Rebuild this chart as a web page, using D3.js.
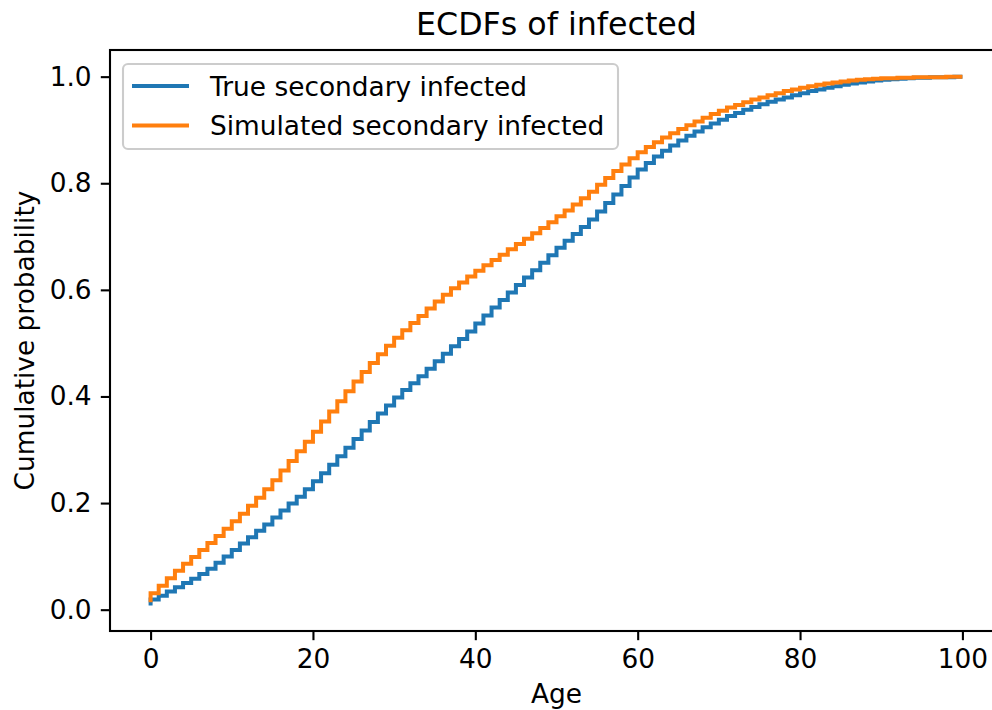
<!DOCTYPE html>
<html>
<head>
<meta charset="utf-8">
<script src="https://cdn.jsdelivr.net/npm/d3@7/dist/d3.min.js"></script>
<style>
  html, body { margin: 0; padding: 0; background: #fff; }
  svg { display: block; font-family: "DejaVu Sans", sans-serif; }
</style>
</head>
<body>
<svg id="chart" width="992" height="710"></svg>
<script>
// Ages (years) at which the empirical CDFs step
const ages = d3.range(0, 101);

// ECDF of the observed secondary infections, value at each age
const trueEcdf = [
  0.019, 0.026, 0.034, 0.042, 0.050, 0.058, 0.067, 0.077, 0.088, 0.100,
  0.112, 0.124, 0.136, 0.148, 0.160, 0.173, 0.186, 0.199, 0.212, 0.226,
  0.241, 0.256, 0.272, 0.288, 0.304, 0.320, 0.336, 0.352, 0.368, 0.383,
  0.398, 0.412, 0.425, 0.438, 0.452, 0.466, 0.480, 0.494, 0.508, 0.522,
  0.537, 0.552, 0.567, 0.581, 0.595, 0.609, 0.623, 0.637, 0.651, 0.665,
  0.679, 0.692, 0.705, 0.718, 0.732, 0.747, 0.763, 0.779, 0.795, 0.811,
  0.826, 0.838, 0.850, 0.861, 0.871, 0.880, 0.889, 0.897, 0.905, 0.912,
  0.919, 0.926, 0.932, 0.938, 0.943, 0.948, 0.953, 0.957, 0.961, 0.965,
  0.969, 0.973, 0.976, 0.979, 0.982, 0.985, 0.987, 0.989, 0.991, 0.993,
  0.994, 0.995, 0.996, 0.997, 0.998, 0.998, 0.999, 0.999, 0.999, 1.000,
  1.000
];

// ECDF of the simulated secondary infections, value at each age
const simEcdf = [
  0.031, 0.045, 0.059, 0.073, 0.086, 0.099, 0.112, 0.125, 0.138, 0.152,
  0.166, 0.180, 0.195, 0.210, 0.226, 0.243, 0.261, 0.279, 0.297, 0.315,
  0.334, 0.353, 0.372, 0.391, 0.410, 0.428, 0.446, 0.463, 0.479, 0.495,
  0.510, 0.524, 0.538, 0.551, 0.565, 0.578, 0.591, 0.603, 0.614, 0.625,
  0.636, 0.646, 0.656, 0.666, 0.676, 0.686, 0.696, 0.706, 0.716, 0.727,
  0.738, 0.749, 0.760, 0.772, 0.784, 0.797, 0.810, 0.823, 0.835, 0.847,
  0.858, 0.868, 0.877, 0.886, 0.894, 0.902, 0.909, 0.916, 0.923, 0.930,
  0.936, 0.942, 0.947, 0.952, 0.957, 0.961, 0.965, 0.969, 0.973, 0.976,
  0.979, 0.982, 0.985, 0.987, 0.989, 0.991, 0.993, 0.994, 0.995, 0.996,
  0.997, 0.997, 0.998, 0.998, 0.999, 0.999, 0.999, 0.999, 1.000, 1.000,
  1.000
];

// Lowest plotted point of each curve (first sample at age 0)
const trueStart = 0.008;
const simStart = 0.014;

const seriesNames = ["True secondary infected", "Simulated secondary infected"];
const seriesColors = ["#1f77b4", "#ff7f0e"];

const xTicks = [0, 20, 40, 60, 80, 100];
const yTicks = [0.0, 0.2, 0.4, 0.6, 0.8, 1.0];

const titleText = "ECDFs of infected";
const xLabel = "Age";
const yLabel = "Cumulative probability";

// ---- layout ----
const svg = d3.select("#chart");
const plot = { left: 110, top: 50, right: 1003, bottom: 631 };
const fontSize = 26.4;

const x = d3.scaleLinear().domain([-5, 105]).range([plot.left, plot.right]);
const y = d3.scaleLinear().domain([-0.04, 1.05]).range([plot.bottom, plot.top]);

// ---- curves ----
const line = d3.line()
  .x(d => x(d[0]))
  .y(d => y(d[1]))
  .curve(d3.curveStepAfter);

function stepPoints(start, vals) {
  const pts = [[ages[0], start]];
  ages.forEach((a, i) => pts.push([a, vals[i]]));
  return pts;
}

const curves = [stepPoints(trueStart, trueEcdf), stepPoints(simStart, simEcdf)];

svg.append("defs").append("clipPath").attr("id", "plotClip")
  .append("rect")
  .attr("x", plot.left).attr("y", plot.top)
  .attr("width", plot.right - plot.left).attr("height", plot.bottom - plot.top);

const gLines = svg.append("g").attr("clip-path", "url(#plotClip)");
curves.forEach((pts, i) => {
  gLines.append("path")
    .datum(pts)
    .attr("d", line)
    .attr("fill", "none")
    .attr("stroke", seriesColors[i])
    .attr("stroke-width", 4)
    .attr("stroke-linejoin", "miter")
    .attr("stroke-linecap", "butt");
});

// ---- axes ----
const tickLen = 9.2, tickPad = 9.2;

const xAxis = d3.axisBottom(x)
  .tickValues(xTicks)
  .tickFormat(d3.format("d"))
  .tickSize(tickLen)
  .tickPadding(tickPad)
  .tickSizeOuter(0);

const yAxis = d3.axisLeft(y)
  .tickValues(yTicks)
  .tickFormat(d3.format(".1f"))
  .tickSize(tickLen)
  .tickPadding(tickPad)
  .tickSizeOuter(0);

const gx = svg.append("g")
  .attr("transform", `translate(0,${plot.bottom})`)
  .call(xAxis);
const gy = svg.append("g")
  .attr("transform", `translate(${plot.left},0)`)
  .call(yAxis);

[gx, gy].forEach(g => {
  g.select(".domain").remove();
  g.selectAll(".tick line").attr("stroke", "#000").attr("stroke-width", 2.1);
  g.selectAll(".tick text")
    .attr("fill", "#000")
    .style("font-family", "DejaVu Sans")
    .style("font-size", fontSize + "px");
});

// spines
svg.append("rect")
  .attr("x", plot.left).attr("y", plot.top)
  .attr("width", plot.right - plot.left).attr("height", plot.bottom - plot.top)
  .attr("fill", "none")
  .attr("stroke", "#000")
  .attr("stroke-width", 2.1);

// ---- title and axis labels ----
const cx = (plot.left + plot.right) / 2;
svg.append("text")
  .attr("x", cx).attr("y", 35)
  .attr("text-anchor", "middle")
  .style("font-size", "31.7px")
  .text(titleText);

svg.append("text")
  .attr("x", cx).attr("y", 703)
  .attr("text-anchor", "middle")
  .style("font-size", fontSize + "px")
  .text(xLabel);

svg.append("text")
  .attr("transform", `translate(34,${(plot.top + plot.bottom) / 2}) rotate(-90)`)
  .attr("text-anchor", "middle")
  .style("font-size", fontSize + "px")
  .text(yLabel);

// ---- legend ----
const legend = svg.append("g");
legend.append("rect")
  .attr("x", 123).attr("y", 64)
  .attr("width", 495).attr("height", 85)
  .attr("rx", 5).attr("ry", 5)
  .attr("fill", "#fff")
  .attr("fill-opacity", 0.8)
  .attr("stroke", "#cccccc")
  .attr("stroke-width", 2.1);

seriesNames.forEach((name, i) => {
  const cy = 86 + i * 39.5;
  legend.append("line")
    .attr("x1", 132).attr("x2", 189)
    .attr("y1", cy).attr("y2", cy)
    .attr("stroke", seriesColors[i])
    .attr("stroke-width", 4);
  legend.append("text")
    .attr("x", 210).attr("y", cy)
    .attr("dy", "0.36em")
    .style("font-size", fontSize + "px")
    .text(name);
});
</script>
</body>
</html>
